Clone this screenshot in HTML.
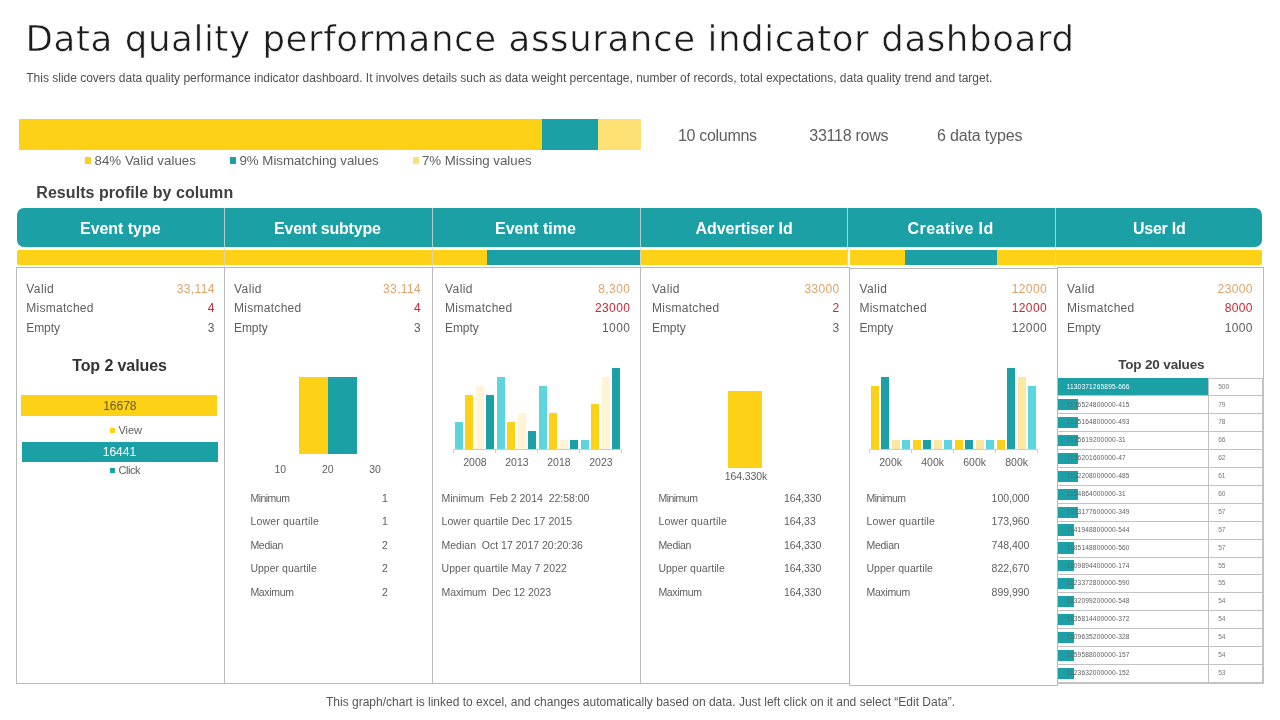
<!DOCTYPE html>
<html lang="en"><head><meta charset="utf-8"><title>Data quality performance assurance indicator dashboard</title>
<style>
html,body{margin:0;padding:0;background:#fff;}
body{width:1280px;height:720px;position:relative;overflow:hidden;font-family:"Liberation Sans", sans-serif;}
.b{position:absolute;}
.t{position:absolute;white-space:pre;line-height:1;font-family:"Liberation Sans", sans-serif;}
</style></head><body>
<div class="b" style="left:19px;top:119px;width:523px;height:31px;background:#FCD116;"></div>
<div class="b" style="left:542px;top:119px;width:56px;height:31px;background:#1BA0A6;"></div>
<div class="b" style="left:598px;top:119px;width:43px;height:31px;background:#FDE074;"></div>
<div class="b" style="left:85.2px;top:157.3px;width:6.1px;height:6.5px;background:#FCD116;"></div>
<div class="b" style="left:230.2px;top:157.3px;width:6.1px;height:6.5px;background:#1BA0A6;"></div>
<div class="b" style="left:413.2px;top:157.3px;width:6.1px;height:6.5px;background:#FDE074;"></div>
<div class="b" style="left:17px;top:208px;width:1245px;height:39px;background:#1BA0A6;border-radius:7px;"></div>
<div class="b" style="left:17px;top:250px;width:830.6px;height:15px;background:#FCD116;border-radius:2px 0 0 2px;"></div>
<div class="b" style="left:487px;top:250px;width:153.3px;height:15px;background:#1BA0A6;"></div>
<div class="b" style="left:850.2px;top:250px;width:411.8px;height:15px;background:#FCD116;border-radius:0 2px 2px 0;"></div>
<div class="b" style="left:905px;top:250px;width:92px;height:15px;background:#1BA0A6;"></div>
<div class="b" style="left:224px;top:208px;width:1px;height:59px;background:rgba(215,215,215,.8);"></div>
<div class="b" style="left:432px;top:208px;width:1px;height:59px;background:rgba(215,215,215,.8);"></div>
<div class="b" style="left:640px;top:208px;width:1px;height:59px;background:rgba(215,215,215,.8);"></div>
<div class="b" style="left:847px;top:208px;width:1px;height:59px;background:rgba(215,215,215,.8);"></div>
<div class="b" style="left:1055px;top:208px;width:1px;height:59px;background:rgba(215,215,215,.8);"></div>
<div class="b" style="left:16px;top:267px;width:209px;height:417px;border:1px solid #b9b9b9;box-sizing:border-box;"></div>
<div class="b" style="left:224px;top:267px;width:209px;height:417px;border:1px solid #b9b9b9;box-sizing:border-box;"></div>
<div class="b" style="left:432px;top:267px;width:209px;height:417px;border:1px solid #b9b9b9;box-sizing:border-box;"></div>
<div class="b" style="left:640px;top:267px;width:210px;height:417px;border:1px solid #b9b9b9;box-sizing:border-box;"></div>
<div class="b" style="left:849px;top:268px;width:209px;height:418px;border:1px solid #b9b9b9;box-sizing:border-box;"></div>
<div class="b" style="left:1057px;top:267px;width:207px;height:416.8px;border:1px solid #b9b9b9;box-sizing:border-box;"></div>
<div class="b" style="left:21px;top:395px;width:196px;height:21px;background:#FCD116;"></div>
<div class="b" style="left:110.3px;top:428.4px;width:5.1px;height:4.8px;background:#FCD116;"></div>
<div class="b" style="left:22px;top:442px;width:196px;height:20px;background:#1BA0A6;"></div>
<div class="b" style="left:110.3px;top:468.2px;width:4.9px;height:5px;background:#1BA0A6;"></div>
<div class="b" style="left:299px;top:377px;width:29px;height:77px;background:#FCD116;"></div>
<div class="b" style="left:328px;top:377px;width:29px;height:77px;background:#1BA0A6;"></div>
<div class="b" style="left:455px;top:421.8px;width:8.2px;height:27.2px;background:#5DD5DF;"></div>
<div class="b" style="left:465.1px;top:394.8px;width:8.2px;height:54.2px;background:#FCD116;"></div>
<div class="b" style="left:476px;top:385.8px;width:8.2px;height:63.2px;background:#FFF5D6;"></div>
<div class="b" style="left:486.1px;top:394.8px;width:8.2px;height:54.2px;background:#1BA0A6;"></div>
<div class="b" style="left:497px;top:376.8px;width:8.2px;height:72.2px;background:#5DD5DF;"></div>
<div class="b" style="left:507.1px;top:421.8px;width:8.2px;height:27.2px;background:#FCD116;"></div>
<div class="b" style="left:518px;top:412.8px;width:8.2px;height:36.2px;background:#FFF5D6;"></div>
<div class="b" style="left:528.1px;top:430.8px;width:8.2px;height:18.2px;background:#1BA0A6;"></div>
<div class="b" style="left:539px;top:385.8px;width:8.2px;height:63.2px;background:#5DD5DF;"></div>
<div class="b" style="left:549.1px;top:412.8px;width:8.2px;height:36.2px;background:#FCD116;"></div>
<div class="b" style="left:560px;top:439.8px;width:8.2px;height:9.2px;background:#FFF5D6;"></div>
<div class="b" style="left:570.1px;top:439.8px;width:8.2px;height:9.2px;background:#1BA0A6;"></div>
<div class="b" style="left:581px;top:439.8px;width:8.2px;height:9.2px;background:#5DD5DF;"></div>
<div class="b" style="left:591.1px;top:403.8px;width:8.2px;height:45.2px;background:#FCD116;"></div>
<div class="b" style="left:602px;top:376.8px;width:8.2px;height:72.2px;background:#FFF5D6;"></div>
<div class="b" style="left:612.1px;top:367.8px;width:8.2px;height:81.2px;background:#1BA0A6;"></div>
<div class="b" style="left:453.4px;top:449px;width:168.5px;height:1px;background:#cdcdcd;"></div>
<div class="b" style="left:453.4px;top:449px;width:1px;height:3.8px;background:#cdcdcd;"></div>
<div class="b" style="left:495.4px;top:449px;width:1px;height:3.8px;background:#cdcdcd;"></div>
<div class="b" style="left:537.4px;top:449px;width:1px;height:3.8px;background:#cdcdcd;"></div>
<div class="b" style="left:579.4px;top:449px;width:1px;height:3.8px;background:#cdcdcd;"></div>
<div class="b" style="left:621.4px;top:449px;width:1px;height:3.8px;background:#cdcdcd;"></div>
<div class="b" style="left:728px;top:391px;width:34px;height:77px;background:#FCD116;"></div>
<div class="b" style="left:871px;top:385.8px;width:8.2px;height:63.2px;background:#FCD116;"></div>
<div class="b" style="left:881.1px;top:376.8px;width:8.2px;height:72.2px;background:#1BA0A6;"></div>
<div class="b" style="left:892px;top:439.8px;width:8.2px;height:9.2px;background:#FDE8A2;"></div>
<div class="b" style="left:902.1px;top:439.8px;width:8.2px;height:9.2px;background:#5DD5DF;"></div>
<div class="b" style="left:913px;top:439.8px;width:8.2px;height:9.2px;background:#FCD116;"></div>
<div class="b" style="left:923.1px;top:439.8px;width:8.2px;height:9.2px;background:#1BA0A6;"></div>
<div class="b" style="left:934px;top:439.8px;width:8.2px;height:9.2px;background:#FDE8A2;"></div>
<div class="b" style="left:944.1px;top:439.8px;width:8.2px;height:9.2px;background:#5DD5DF;"></div>
<div class="b" style="left:955px;top:439.8px;width:8.2px;height:9.2px;background:#FCD116;"></div>
<div class="b" style="left:965.1px;top:439.8px;width:8.2px;height:9.2px;background:#1BA0A6;"></div>
<div class="b" style="left:976px;top:439.8px;width:8.2px;height:9.2px;background:#FDE8A2;"></div>
<div class="b" style="left:986.1px;top:439.8px;width:8.2px;height:9.2px;background:#5DD5DF;"></div>
<div class="b" style="left:997px;top:439.8px;width:8.2px;height:9.2px;background:#FCD116;"></div>
<div class="b" style="left:1007.1px;top:367.8px;width:8.2px;height:81.2px;background:#1BA0A6;"></div>
<div class="b" style="left:1018px;top:376.8px;width:8.2px;height:72.2px;background:#FDE8A2;"></div>
<div class="b" style="left:1028.1px;top:385.8px;width:8.2px;height:63.2px;background:#5DD5DF;"></div>
<div class="b" style="left:869.4px;top:449px;width:168.5px;height:1px;background:#cdcdcd;"></div>
<div class="b" style="left:869.4px;top:449px;width:1px;height:3.8px;background:#cdcdcd;"></div>
<div class="b" style="left:911.4px;top:449px;width:1px;height:3.8px;background:#cdcdcd;"></div>
<div class="b" style="left:953.4px;top:449px;width:1px;height:3.8px;background:#cdcdcd;"></div>
<div class="b" style="left:995.4px;top:449px;width:1px;height:3.8px;background:#cdcdcd;"></div>
<div class="b" style="left:1037.4px;top:449px;width:1px;height:3.8px;background:#cdcdcd;"></div>
<div class="b" style="left:1057.5px;top:399.1px;width:20.5px;height:11.3px;background:#1BA0A6;"></div>
<div class="b" style="left:1057.5px;top:417px;width:20.5px;height:11.3px;background:#1BA0A6;"></div>
<div class="b" style="left:1057.5px;top:434.9px;width:20.5px;height:11.3px;background:#1BA0A6;"></div>
<div class="b" style="left:1057.5px;top:452.8px;width:20.5px;height:11.3px;background:#1BA0A6;"></div>
<div class="b" style="left:1057.5px;top:470.7px;width:20.5px;height:11.3px;background:#1BA0A6;"></div>
<div class="b" style="left:1057.5px;top:488.6px;width:20.5px;height:11.3px;background:#1BA0A6;"></div>
<div class="b" style="left:1057.5px;top:506.5px;width:20.5px;height:11.3px;background:#1BA0A6;"></div>
<div class="b" style="left:1057.5px;top:524.4px;width:16.5px;height:11.3px;background:#1BA0A6;"></div>
<div class="b" style="left:1057.5px;top:542.3px;width:16.5px;height:11.3px;background:#1BA0A6;"></div>
<div class="b" style="left:1057.5px;top:560.2px;width:16.5px;height:11.3px;background:#1BA0A6;"></div>
<div class="b" style="left:1057.5px;top:578.1px;width:16.5px;height:11.3px;background:#1BA0A6;"></div>
<div class="b" style="left:1057.5px;top:596px;width:16.5px;height:11.3px;background:#1BA0A6;"></div>
<div class="b" style="left:1057.5px;top:613.9px;width:16.5px;height:11.3px;background:#1BA0A6;"></div>
<div class="b" style="left:1057.5px;top:631.8px;width:16.5px;height:11.3px;background:#1BA0A6;"></div>
<div class="b" style="left:1057.5px;top:649.7px;width:16.5px;height:11.3px;background:#1BA0A6;"></div>
<div class="b" style="left:1057.5px;top:667.6px;width:16.5px;height:11.3px;background:#1BA0A6;"></div>
<div class="b" style="left:1057px;top:377.5px;width:206px;height:1px;background:#c2c2c2;"></div>
<div class="b" style="left:1057px;top:395.4px;width:206px;height:1px;background:#c2c2c2;"></div>
<div class="b" style="left:1057px;top:413.3px;width:206px;height:1px;background:#c2c2c2;"></div>
<div class="b" style="left:1057px;top:431.2px;width:206px;height:1px;background:#c2c2c2;"></div>
<div class="b" style="left:1057px;top:449.1px;width:206px;height:1px;background:#c2c2c2;"></div>
<div class="b" style="left:1057px;top:467px;width:206px;height:1px;background:#c2c2c2;"></div>
<div class="b" style="left:1057px;top:484.9px;width:206px;height:1px;background:#c2c2c2;"></div>
<div class="b" style="left:1057px;top:502.8px;width:206px;height:1px;background:#c2c2c2;"></div>
<div class="b" style="left:1057px;top:520.7px;width:206px;height:1px;background:#c2c2c2;"></div>
<div class="b" style="left:1057px;top:538.6px;width:206px;height:1px;background:#c2c2c2;"></div>
<div class="b" style="left:1057px;top:556.5px;width:206px;height:1px;background:#c2c2c2;"></div>
<div class="b" style="left:1057px;top:574.4px;width:206px;height:1px;background:#c2c2c2;"></div>
<div class="b" style="left:1057px;top:592.3px;width:206px;height:1px;background:#c2c2c2;"></div>
<div class="b" style="left:1057px;top:610.2px;width:206px;height:1px;background:#c2c2c2;"></div>
<div class="b" style="left:1057px;top:628.1px;width:206px;height:1px;background:#c2c2c2;"></div>
<div class="b" style="left:1057px;top:646px;width:206px;height:1px;background:#c2c2c2;"></div>
<div class="b" style="left:1057px;top:663.9px;width:206px;height:1px;background:#c2c2c2;"></div>
<div class="b" style="left:1208px;top:378px;width:1px;height:305px;background:#c2c2c2;"></div>
<div class="b" style="left:1262.4px;top:378px;width:1.6px;height:305.8px;background:#c2c2c2;"></div>
<div class="b" style="left:1057px;top:682.2px;width:207px;height:1.6px;background:#c2c2c2;"></div>
<div class="b" style="left:1057.5px;top:377.70px;width:150.5px;height:17.60px;background:#1BA0A6"></div>
<div class="t" style="top:21px;font-size:35.6px;color:#1c1c1c;letter-spacing:0.580px;left:25.60px;-webkit-text-stroke:0.55px #fff;font-family:'DejaVu Sans','Liberation Sans',sans-serif;">Data quality performance assurance indicator dashboard</div>
<div class="t" style="top:72px;font-size:12px;color:#505050;letter-spacing:-0.010px;left:26.30px;">This slide covers data quality performance indicator dashboard. It involves details such as data weight percentage, number of records, total expectations, data quality trend and target.</div>
<div class="t" style="top:154px;font-size:13.3px;color:#5e5e5e;letter-spacing:0.025px;left:94.50px;">84% Valid values</div>
<div class="t" style="top:154px;font-size:13.3px;color:#5e5e5e;letter-spacing:-0.026px;left:239.50px;">9% Mismatching values</div>
<div class="t" style="top:154px;font-size:13.3px;color:#5e5e5e;letter-spacing:-0.029px;left:422.00px;">7% Missing values</div>
<div class="t" style="top:128px;font-size:16px;color:#5e5e5e;letter-spacing:-0.313px;left:678.00px;">10 columns</div>
<div class="t" style="top:128px;font-size:16px;color:#5e5e5e;letter-spacing:-0.253px;left:809.25px;">33118 rows</div>
<div class="t" style="top:128px;font-size:16px;color:#5e5e5e;letter-spacing:-0.152px;left:937.00px;">6 data types</div>
<div class="t" style="top:185px;font-size:16px;color:#3f3f3f;font-weight:700;letter-spacing:0.054px;left:36.30px;">Results profile by column</div>
<div class="t" style="top:221px;font-size:16px;color:#fff;font-weight:700;letter-spacing:-0.035px;left:80.00px;">Event type</div>
<div class="t" style="top:221px;font-size:16px;color:#fff;font-weight:700;letter-spacing:-0.205px;left:274.00px;">Event subtype</div>
<div class="t" style="top:221px;font-size:16px;color:#fff;font-weight:700;left:495.00px;">Event time</div>
<div class="t" style="top:221px;font-size:16px;color:#fff;font-weight:700;letter-spacing:-0.045px;left:695.50px;">Advertiser Id</div>
<div class="t" style="top:221px;font-size:16px;color:#fff;font-weight:700;letter-spacing:0.376px;left:907.60px;">Creative Id</div>
<div class="t" style="top:221px;font-size:16px;color:#fff;font-weight:700;letter-spacing:-0.245px;left:1133.00px;">User Id</div>
<div class="t" style="top:283px;font-size:12px;color:#5e5e5e;letter-spacing:0.433px;left:26.25px;">Valid</div>
<div class="t" style="top:283px;font-size:12px;color:#E2A168;letter-spacing:0.380px;left:176.66px;">33,114</div>
<div class="t" style="top:302px;font-size:12px;color:#5e5e5e;letter-spacing:0.282px;left:26.25px;">Mismatched</div>
<div class="t" style="top:302px;font-size:12px;color:#CB2632;left:207.70px;">4</div>
<div class="t" style="top:322px;font-size:12px;color:#5e5e5e;letter-spacing:-0.064px;left:26.25px;">Empty</div>
<div class="t" style="top:322px;font-size:12px;color:#5e5e5e;left:207.70px;">3</div>
<div class="t" style="top:283px;font-size:12px;color:#5e5e5e;letter-spacing:0.433px;left:234.00px;">Valid</div>
<div class="t" style="top:283px;font-size:12px;color:#E2A168;letter-spacing:0.380px;left:383.06px;">33,114</div>
<div class="t" style="top:302px;font-size:12px;color:#5e5e5e;letter-spacing:0.282px;left:234.00px;">Mismatched</div>
<div class="t" style="top:302px;font-size:12px;color:#CB2632;left:414.10px;">4</div>
<div class="t" style="top:322px;font-size:12px;color:#5e5e5e;letter-spacing:-0.064px;left:234.00px;">Empty</div>
<div class="t" style="top:322px;font-size:12px;color:#5e5e5e;left:414.10px;">3</div>
<div class="t" style="top:283px;font-size:12px;color:#5e5e5e;letter-spacing:0.433px;left:445.00px;">Valid</div>
<div class="t" style="top:283px;font-size:12px;color:#E2A168;letter-spacing:0.380px;left:598.32px;">8,300</div>
<div class="t" style="top:302px;font-size:12px;color:#5e5e5e;letter-spacing:0.282px;left:445.00px;">Mismatched</div>
<div class="t" style="top:302px;font-size:12px;color:#CB2632;letter-spacing:0.380px;left:594.98px;">23000</div>
<div class="t" style="top:322px;font-size:12px;color:#5e5e5e;letter-spacing:-0.064px;left:445.00px;">Empty</div>
<div class="t" style="top:322px;font-size:12px;color:#5e5e5e;letter-spacing:0.380px;left:602.04px;">1000</div>
<div class="t" style="top:283px;font-size:12px;color:#5e5e5e;letter-spacing:0.433px;left:652.00px;">Valid</div>
<div class="t" style="top:283px;font-size:12px;color:#E2A168;letter-spacing:0.380px;left:804.38px;">33000</div>
<div class="t" style="top:302px;font-size:12px;color:#5e5e5e;letter-spacing:0.282px;left:652.00px;">Mismatched</div>
<div class="t" style="top:302px;font-size:12px;color:#CB2632;left:832.60px;">2</div>
<div class="t" style="top:322px;font-size:12px;color:#5e5e5e;letter-spacing:-0.064px;left:652.00px;">Empty</div>
<div class="t" style="top:322px;font-size:12px;color:#5e5e5e;left:832.60px;">3</div>
<div class="t" style="top:283px;font-size:12px;color:#5e5e5e;letter-spacing:0.433px;left:859.40px;">Valid</div>
<div class="t" style="top:283px;font-size:12px;color:#E2A168;letter-spacing:0.380px;left:1011.78px;">12000</div>
<div class="t" style="top:302px;font-size:12px;color:#5e5e5e;letter-spacing:0.282px;left:859.40px;">Mismatched</div>
<div class="t" style="top:302px;font-size:12px;color:#CB2632;letter-spacing:0.380px;left:1011.78px;">12000</div>
<div class="t" style="top:322px;font-size:12px;color:#5e5e5e;letter-spacing:-0.064px;left:859.40px;">Empty</div>
<div class="t" style="top:322px;font-size:12px;color:#5e5e5e;letter-spacing:0.380px;left:1011.78px;">12000</div>
<div class="t" style="top:283px;font-size:12px;color:#5e5e5e;letter-spacing:0.433px;left:1067.00px;">Valid</div>
<div class="t" style="top:283px;font-size:12px;color:#E2A168;letter-spacing:0.380px;left:1217.58px;">23000</div>
<div class="t" style="top:302px;font-size:12px;color:#5e5e5e;letter-spacing:0.282px;left:1067.00px;">Mismatched</div>
<div class="t" style="top:302px;font-size:12px;color:#CB2632;letter-spacing:0.380px;left:1224.64px;">8000</div>
<div class="t" style="top:322px;font-size:12px;color:#5e5e5e;letter-spacing:-0.064px;left:1067.00px;">Empty</div>
<div class="t" style="top:322px;font-size:12px;color:#5e5e5e;letter-spacing:0.380px;left:1224.64px;">1000</div>
<div class="t" style="top:358px;font-size:16px;color:#333;font-weight:700;letter-spacing:-0.094px;left:72.20px;">Top 2 values</div>
<div class="t" style="top:400px;font-size:12px;color:#6a5a22;left:103.15px;">16678</div>
<div class="t" style="top:425px;font-size:11px;color:#5e5e5e;letter-spacing:-0.067px;left:118.50px;">View</div>
<div class="t" style="top:446px;font-size:12px;color:#fff;left:102.75px;">16441</div>
<div class="t" style="top:465px;font-size:11px;color:#5e5e5e;letter-spacing:-0.458px;left:118.50px;">Click</div>
<div class="t" style="top:464px;font-size:10.5px;color:#5e5e5e;left:274.38px;">10</div>
<div class="t" style="top:464px;font-size:10.5px;color:#5e5e5e;left:321.98px;">20</div>
<div class="t" style="top:464px;font-size:10.5px;color:#5e5e5e;left:369.18px;">30</div>
<div class="t" style="top:493px;font-size:10.5px;color:#5e5e5e;letter-spacing:-0.506px;left:250.40px;">Minimum</div>
<div class="t" style="top:493px;font-size:10.5px;color:#5e5e5e;left:382.00px;">1</div>
<div class="t" style="top:516px;font-size:10.5px;color:#5e5e5e;letter-spacing:0.191px;left:250.40px;">Lower quartile</div>
<div class="t" style="top:516px;font-size:10.5px;color:#5e5e5e;left:382.00px;">1</div>
<div class="t" style="top:540px;font-size:10.5px;color:#5e5e5e;letter-spacing:-0.280px;left:250.40px;">Median</div>
<div class="t" style="top:540px;font-size:10.5px;color:#5e5e5e;left:382.00px;">2</div>
<div class="t" style="top:563px;font-size:10.5px;color:#5e5e5e;letter-spacing:0.030px;left:250.40px;">Upper quartile</div>
<div class="t" style="top:563px;font-size:10.5px;color:#5e5e5e;left:382.00px;">2</div>
<div class="t" style="top:587px;font-size:10.5px;color:#5e5e5e;letter-spacing:-0.309px;left:250.40px;">Maximum</div>
<div class="t" style="top:587px;font-size:10.5px;color:#5e5e5e;left:382.00px;">2</div>
<div class="t" style="top:457px;font-size:10.5px;color:#5e5e5e;left:463.24px;">2008</div>
<div class="t" style="top:457px;font-size:10.5px;color:#5e5e5e;left:505.24px;">2013</div>
<div class="t" style="top:457px;font-size:10.5px;color:#5e5e5e;left:547.24px;">2018</div>
<div class="t" style="top:457px;font-size:10.5px;color:#5e5e5e;left:589.24px;">2023</div>
<div class="t" style="top:493px;font-size:10.5px;color:#5e5e5e;letter-spacing:-0.011px;left:441.50px;">Minimum  Feb 2 2014  22:58:00</div>
<div class="t" style="top:516px;font-size:10.5px;color:#5e5e5e;letter-spacing:0.085px;left:441.50px;">Lower quartile Dec 17 2015</div>
<div class="t" style="top:540px;font-size:10.5px;color:#5e5e5e;letter-spacing:0.006px;left:441.50px;">Median  Oct 17 2017 20:20:36</div>
<div class="t" style="top:563px;font-size:10.5px;color:#5e5e5e;letter-spacing:0.071px;left:441.50px;">Upper quartile May 7 2022</div>
<div class="t" style="top:587px;font-size:10.5px;color:#5e5e5e;letter-spacing:-0.071px;left:441.50px;">Maximum  Dec 12 2023</div>
<div class="t" style="top:471px;font-size:10.5px;color:#5e5e5e;letter-spacing:-0.094px;left:724.75px;">164.330k</div>
<div class="t" style="top:493px;font-size:10.5px;color:#5e5e5e;letter-spacing:-0.506px;left:658.40px;">Minimum</div>
<div class="t" style="top:493px;font-size:10.5px;color:#5e5e5e;letter-spacing:-0.103px;left:784.00px;">164,330</div>
<div class="t" style="top:516px;font-size:10.5px;color:#5e5e5e;letter-spacing:0.191px;left:658.40px;">Lower quartile</div>
<div class="t" style="top:516px;font-size:10.5px;color:#5e5e5e;letter-spacing:-0.080px;left:784.00px;">164,33</div>
<div class="t" style="top:540px;font-size:10.5px;color:#5e5e5e;letter-spacing:-0.280px;left:658.40px;">Median</div>
<div class="t" style="top:540px;font-size:10.5px;color:#5e5e5e;letter-spacing:-0.103px;left:784.00px;">164,330</div>
<div class="t" style="top:563px;font-size:10.5px;color:#5e5e5e;letter-spacing:0.030px;left:658.40px;">Upper quartile</div>
<div class="t" style="top:563px;font-size:10.5px;color:#5e5e5e;letter-spacing:-0.103px;left:784.00px;">164,330</div>
<div class="t" style="top:587px;font-size:10.5px;color:#5e5e5e;letter-spacing:-0.309px;left:658.40px;">Maximum</div>
<div class="t" style="top:587px;font-size:10.5px;color:#5e5e5e;letter-spacing:-0.103px;left:784.00px;">164,330</div>
<div class="t" style="top:457px;font-size:10.5px;color:#5e5e5e;left:879.24px;">200k</div>
<div class="t" style="top:457px;font-size:10.5px;color:#5e5e5e;left:921.24px;">400k</div>
<div class="t" style="top:457px;font-size:10.5px;color:#5e5e5e;left:963.24px;">600k</div>
<div class="t" style="top:457px;font-size:10.5px;color:#5e5e5e;left:1005.24px;">800k</div>
<div class="t" style="top:493px;font-size:10.5px;color:#5e5e5e;letter-spacing:-0.506px;left:866.50px;">Minimum</div>
<div class="t" style="top:493px;font-size:10.5px;color:#5e5e5e;letter-spacing:-0.019px;left:991.60px;">100,000</div>
<div class="t" style="top:516px;font-size:10.5px;color:#5e5e5e;letter-spacing:0.191px;left:866.50px;">Lower quartile</div>
<div class="t" style="top:516px;font-size:10.5px;color:#5e5e5e;letter-spacing:-0.019px;left:991.60px;">173,960</div>
<div class="t" style="top:540px;font-size:10.5px;color:#5e5e5e;letter-spacing:-0.280px;left:866.50px;">Median</div>
<div class="t" style="top:540px;font-size:10.5px;color:#5e5e5e;letter-spacing:-0.019px;left:991.60px;">748,400</div>
<div class="t" style="top:563px;font-size:10.5px;color:#5e5e5e;letter-spacing:0.030px;left:866.50px;">Upper quartile</div>
<div class="t" style="top:563px;font-size:10.5px;color:#5e5e5e;letter-spacing:-0.019px;left:991.60px;">822,670</div>
<div class="t" style="top:587px;font-size:10.5px;color:#5e5e5e;letter-spacing:-0.309px;left:866.50px;">Maximum</div>
<div class="t" style="top:587px;font-size:10.5px;color:#5e5e5e;letter-spacing:-0.019px;left:991.60px;">899,990</div>
<div class="t" style="top:358px;font-size:13.5px;color:#424242;font-weight:700;letter-spacing:-0.165px;left:1118.20px;">Top 20 values</div>
<div class="t" style="top:384px;font-size:6.6px;color:#fff;letter-spacing:0.155px;left:1066.60px;">1130371265895-666</div>
<div class="t" style="top:384px;font-size:6.6px;color:#777;letter-spacing:-0.042px;left:1218.20px;">500</div>
<div class="t" style="top:402px;font-size:6.6px;color:#5e5e5e;letter-spacing:0.155px;left:1066.60px;">1136524800000-415</div>
<div class="t" style="top:402px;font-size:6.6px;color:#777;letter-spacing:-0.167px;left:1218.20px;">79</div>
<div class="t" style="top:419px;font-size:6.6px;color:#5e5e5e;letter-spacing:0.155px;left:1066.60px;">1135164800000-493</div>
<div class="t" style="top:419px;font-size:6.6px;color:#777;letter-spacing:-0.167px;left:1218.20px;">78</div>
<div class="t" style="top:437px;font-size:6.6px;color:#5e5e5e;letter-spacing:0.162px;left:1066.60px;">1135619200000-31</div>
<div class="t" style="top:437px;font-size:6.6px;color:#777;letter-spacing:-0.167px;left:1218.20px;">66</div>
<div class="t" style="top:455px;font-size:6.6px;color:#5e5e5e;letter-spacing:0.162px;left:1066.60px;">1136201600000-47</div>
<div class="t" style="top:455px;font-size:6.6px;color:#777;letter-spacing:-0.167px;left:1218.20px;">62</div>
<div class="t" style="top:473px;font-size:6.6px;color:#5e5e5e;letter-spacing:0.155px;left:1066.60px;">1132208000000-485</div>
<div class="t" style="top:473px;font-size:6.6px;color:#777;letter-spacing:-0.167px;left:1218.20px;">61</div>
<div class="t" style="top:491px;font-size:6.6px;color:#5e5e5e;letter-spacing:0.162px;left:1066.60px;">1134864000000-31</div>
<div class="t" style="top:491px;font-size:6.6px;color:#777;letter-spacing:-0.167px;left:1218.20px;">60</div>
<div class="t" style="top:509px;font-size:6.6px;color:#5e5e5e;letter-spacing:0.155px;left:1066.60px;">1133177600000-349</div>
<div class="t" style="top:509px;font-size:6.6px;color:#777;letter-spacing:-0.167px;left:1218.20px;">57</div>
<div class="t" style="top:527px;font-size:6.6px;color:#5e5e5e;letter-spacing:0.155px;left:1066.60px;">1141948800000-544</div>
<div class="t" style="top:527px;font-size:6.6px;color:#777;letter-spacing:-0.167px;left:1218.20px;">57</div>
<div class="t" style="top:545px;font-size:6.6px;color:#5e5e5e;letter-spacing:0.155px;left:1066.60px;">1185148800000-560</div>
<div class="t" style="top:545px;font-size:6.6px;color:#777;letter-spacing:-0.167px;left:1218.20px;">57</div>
<div class="t" style="top:563px;font-size:6.6px;color:#5e5e5e;letter-spacing:0.155px;left:1066.60px;">1109894400000-174</div>
<div class="t" style="top:563px;font-size:6.6px;color:#777;letter-spacing:-0.167px;left:1218.20px;">55</div>
<div class="t" style="top:580px;font-size:6.6px;color:#5e5e5e;letter-spacing:0.155px;left:1066.60px;">1123372800000-590</div>
<div class="t" style="top:580px;font-size:6.6px;color:#777;letter-spacing:-0.167px;left:1218.20px;">55</div>
<div class="t" style="top:598px;font-size:6.6px;color:#5e5e5e;letter-spacing:0.155px;left:1066.60px;">1132099200000-548</div>
<div class="t" style="top:598px;font-size:6.6px;color:#777;letter-spacing:-0.167px;left:1218.20px;">54</div>
<div class="t" style="top:616px;font-size:6.6px;color:#5e5e5e;letter-spacing:0.155px;left:1066.60px;">1135814400000-372</div>
<div class="t" style="top:616px;font-size:6.6px;color:#777;letter-spacing:-0.167px;left:1218.20px;">54</div>
<div class="t" style="top:634px;font-size:6.6px;color:#5e5e5e;letter-spacing:0.155px;left:1066.60px;">1109635200000-328</div>
<div class="t" style="top:634px;font-size:6.6px;color:#777;letter-spacing:-0.167px;left:1218.20px;">54</div>
<div class="t" style="top:652px;font-size:6.6px;color:#5e5e5e;letter-spacing:0.155px;left:1066.60px;">1159588000000-157</div>
<div class="t" style="top:652px;font-size:6.6px;color:#777;letter-spacing:-0.167px;left:1218.20px;">54</div>
<div class="t" style="top:670px;font-size:6.6px;color:#5e5e5e;letter-spacing:0.155px;left:1066.60px;">1123632000000-152</div>
<div class="t" style="top:670px;font-size:6.6px;color:#777;letter-spacing:-0.167px;left:1218.20px;">53</div>
<div class="t" style="top:696px;font-size:12px;color:#555;left:326.00px;">This graph/chart is linked to excel, and changes automatically based on data. Just left click on it and select “Edit Data”.</div>
<div class="b" style="left:1057.5px;top:399.10px;width:20.5px;height:11.30px;background:#1BA0A6;opacity:0.35"></div>
<div class="b" style="left:1057.5px;top:417.00px;width:20.5px;height:11.30px;background:#1BA0A6;opacity:0.35"></div>
<div class="b" style="left:1057.5px;top:434.90px;width:20.5px;height:11.30px;background:#1BA0A6;opacity:0.35"></div>
<div class="b" style="left:1057.5px;top:452.80px;width:20.5px;height:11.30px;background:#1BA0A6;opacity:0.35"></div>
<div class="b" style="left:1057.5px;top:470.70px;width:20.5px;height:11.30px;background:#1BA0A6;opacity:0.35"></div>
<div class="b" style="left:1057.5px;top:488.60px;width:20.5px;height:11.30px;background:#1BA0A6;opacity:0.35"></div>
<div class="b" style="left:1057.5px;top:506.50px;width:20.5px;height:11.30px;background:#1BA0A6;opacity:0.35"></div>
<div class="b" style="left:1057.5px;top:524.40px;width:16.5px;height:11.30px;background:#1BA0A6;opacity:0.35"></div>
<div class="b" style="left:1057.5px;top:542.30px;width:16.5px;height:11.30px;background:#1BA0A6;opacity:0.35"></div>
<div class="b" style="left:1057.5px;top:560.20px;width:16.5px;height:11.30px;background:#1BA0A6;opacity:0.35"></div>
<div class="b" style="left:1057.5px;top:578.10px;width:16.5px;height:11.30px;background:#1BA0A6;opacity:0.35"></div>
<div class="b" style="left:1057.5px;top:596.00px;width:16.5px;height:11.30px;background:#1BA0A6;opacity:0.35"></div>
<div class="b" style="left:1057.5px;top:613.90px;width:16.5px;height:11.30px;background:#1BA0A6;opacity:0.35"></div>
<div class="b" style="left:1057.5px;top:631.80px;width:16.5px;height:11.30px;background:#1BA0A6;opacity:0.35"></div>
<div class="b" style="left:1057.5px;top:649.70px;width:16.5px;height:11.30px;background:#1BA0A6;opacity:0.35"></div>
<div class="b" style="left:1057.5px;top:667.60px;width:16.5px;height:11.30px;background:#1BA0A6;opacity:0.35"></div>
</body></html>
